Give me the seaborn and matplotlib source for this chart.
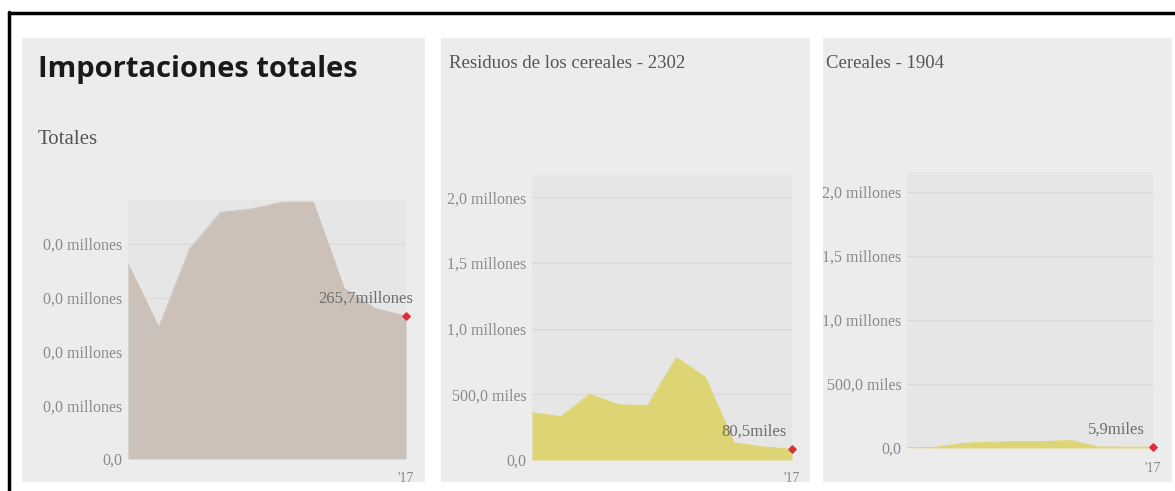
import numpy as np
import pandas as pd
import seaborn as sns
import matplotlib.pyplot as plt
from matplotlib.patches import Rectangle
from matplotlib.lines import Line2D

# Data (10 years, last one is 2017)
years = list(range(2008, 2018))
totales = [363, 245, 391, 459, 465, 478, 478, 317, 280, 265.7]            # millones
residuos = [360, 330, 500, 420, 415, 780, 630, 130, 100, 80.5]            # miles
cereales = [2.0, 3.0, 35.0, 45.0, 50.0, 50.0, 58.0, 8.0, 6.0, 5.9]        # miles

panel_titles = ['Residuos de los cereales - 2302', 'Cereales - 1904']
last_labels = ['265,7millones', '80,5miles', '5,9miles']

tot_ticks = [0, 100, 200, 300, 400]
tot_ticklabels = ['0,0', '0,0 millones', '0,0 millones', '0,0 millones', '0,0 millones']
sub_ticks = [0, 500, 1000, 1500, 2000]
sub_ticklabels = ['0,0', '500,0 miles', '1,0 millones', '1,5 millones', '2,0 millones']

sns.set_theme(style='white')
plt.rcParams['font.family'] = ['Liberation Serif', 'DejaVu Serif']

W, H = 1175, 491
fig = plt.figure(figsize=(W / 100, H / 100), dpi=100)
fig.patch.set_facecolor('white')


def px_rect(x0, y0, x1, y1):
    return [x0 / W, 1 - y1 / H, (x1 - x0) / W, (y1 - y0) / H]


# panel backgrounds
for x0, x1 in [(22, 425), (441, 810), (823, 1172)]:
    fig.patches.append(Rectangle((x0 / W, 1 - 482 / H), (x1 - x0) / W, (482 - 38) / H,
                                 transform=fig.transFigure, facecolor='#ececec',
                                 edgecolor='none', zorder=-5))

# outer black border (left and top)
fig.lines.append(Line2D([9 / W, 9 / W], [0, 1 - 12 / H], transform=fig.transFigure,
                        color='black', lw=2.5, zorder=-4))
fig.lines.append(Line2D([9 / W, 1], [1 - 13 / H, 1 - 13 / H], transform=fig.transFigure,
                        color='black', lw=2.5, zorder=-4))

grey = '#8a8a8a'


def draw_area(rect, values, ticks, ticklabels, ymax, color, last_label, xlab_pad, lab_dx):
    ax = fig.add_axes(rect)
    ax.set_facecolor('#e6e6e6')
    df = pd.DataFrame({'year': years, 'value': values})
    ax.fill_between(df['year'], 0, df['value'], color=color, lw=0, zorder=2)
    sns.lineplot(data=df, x='year', y='value', ax=ax, color=color, lw=0.8, zorder=3)
    ax.scatter([years[-1]], [values[-1]], marker='D', s=14, color='#d9303c',
               zorder=5, clip_on=False)
    ax.annotate(last_label, (years[-1], values[-1]), xytext=(lab_dx, 7),
                textcoords='offset points', ha='right', va='bottom',
                fontsize=12, color='#6e6e6e')
    ax.set_xlim(years[0], years[-1])
    ax.set_ylim(0, ymax)
    ax.set_yticks(ticks)
    ax.set_yticklabels(ticklabels)
    ax.yaxis.grid(True, color='#d9d9d9', lw=0.9)
    ax.set_axisbelow(True)
    ax.set_xticks([years[-1]])
    ax.set_xticklabels(["'17"])
    ax.tick_params(axis='y', length=0, pad=4, labelsize=11.5, labelcolor=grey)
    ax.tick_params(axis='x', length=0, pad=xlab_pad, labelsize=10, labelcolor=grey)
    for s in ax.spines.values():
        s.set_visible(False)
    ax.set_xlabel('')
    ax.set_ylabel('')
    return ax


draw_area(px_rect(128, 200, 406, 459), totales, tot_ticks, tot_ticklabels, 482,
          '#cbc1b9', last_labels[0], 9, 5)
draw_area(px_rect(532, 175, 792, 460), residuos, sub_ticks, sub_ticklabels, 2170,
          '#ddd574', last_labels[1], 9, -4)
draw_area(px_rect(907, 172, 1153, 448), cereales, sub_ticks, sub_ticklabels, 2156,
          '#ddd574', last_labels[2], 10, -6)

# titles
fig.text(38 / W, 1 - 70 / H, 'Importaciones totales', fontsize=21, fontweight='bold',
         family=['Open Sans', 'DejaVu Sans'], color='#1a1a1a', va='center', ha='left')
fig.text(38 / W, 1 - 140 / H, 'Totales', fontsize=15, color='#555555', va='center', ha='left')
fig.text(449 / W, 1 - 63 / H, panel_titles[0], fontsize=13.5, color='#555555',
         va='center', ha='left')
fig.text(826 / W, 1 - 63 / H, panel_titles[1], fontsize=13.5, color='#555555',
         va='center', ha='left')

fig.savefig('out.png', dpi=100, facecolor='white')
